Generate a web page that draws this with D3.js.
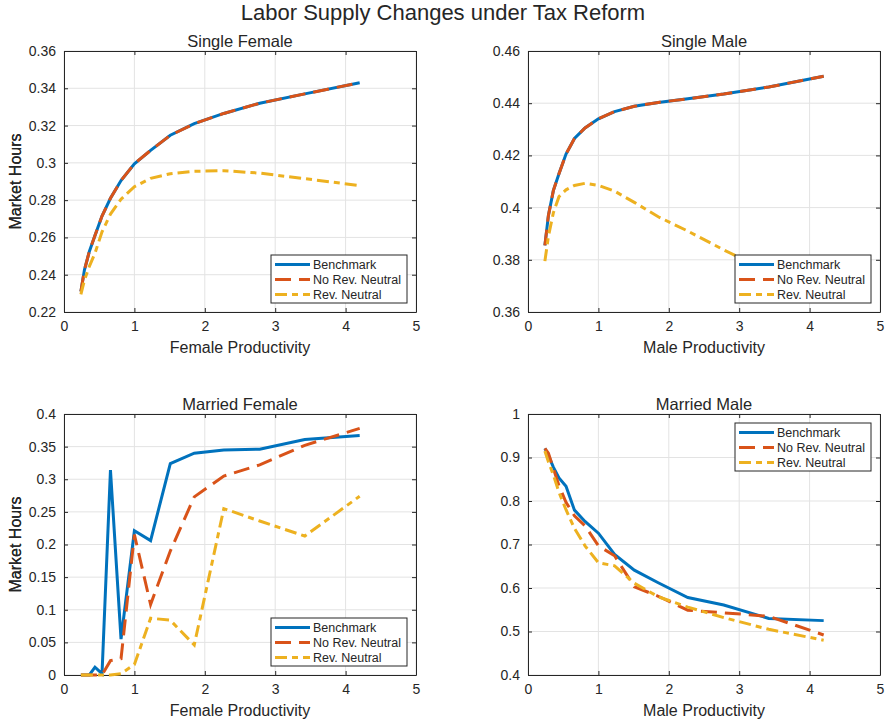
<!DOCTYPE html>
<html>
<head>
<meta charset="utf-8">
<script src="https://cdn.jsdelivr.net/npm/d3@7"></script>
<style>
  html, body { margin: 0; padding: 0; background: #fff; }
  svg text { font-family: "Liberation Sans", Arial, Helvetica, sans-serif; fill: #262626; }
</style>
</head>
<body>
<div id="chart"></div>
<script>
// productivity grid shared by all four panels
const productivity = [0.24, 0.29, 0.36, 0.44, 0.54, 0.66, 0.81, 1.0, 1.23, 1.51, 1.85, 2.27, 2.78, 3.42, 4.2];
const seriesNames = ["Benchmark", "No Rev. Neutral", "Rev. Neutral"];

// Single Female
const sfBenchmark = [0.231, 0.2425, 0.2525, 0.261, 0.2715, 0.281, 0.2905, 0.2995, 0.3067, 0.3148, 0.321, 0.3265, 0.332, 0.337, 0.343];
const sfNoRevNeutral = [0.231, 0.2425, 0.2525, 0.261, 0.2715, 0.281, 0.2905, 0.2995, 0.3067, 0.3148, 0.321, 0.3265, 0.332, 0.337, 0.343];
const sfRevNeutral = [0.2295, 0.237, 0.2445, 0.2515, 0.263, 0.2725, 0.2805, 0.2872, 0.2917, 0.2942, 0.2955, 0.2958, 0.2945, 0.2915, 0.2878];

// Single Male
const smBenchmark = [0.3855, 0.397, 0.4065, 0.413, 0.4205, 0.4265, 0.4305, 0.434, 0.4368, 0.4388, 0.4403, 0.4417, 0.4435, 0.4462, 0.4503];
const smNoRevNeutral = [0.3855, 0.397, 0.4065, 0.413, 0.4205, 0.4265, 0.4305, 0.434, 0.4368, 0.4388, 0.4403, 0.4417, 0.4435, 0.4462, 0.4503];
const smRevNeutral = [0.3795, 0.389, 0.398, 0.4042, 0.4068, 0.4085, 0.4093, 0.4085, 0.4063, 0.402, 0.3965, 0.391, 0.3838, 0.3755, 0.367];

// Married Female
const mfBenchmark = [0, 0, 0, 0.012, 0.002, 0.314, 0.055, 0.221, 0.206, 0.324, 0.34, 0.345, 0.346, 0.361, 0.367];
const mfNoRevNeutral = [0, 0, 0, 0, 0, 0.022, 0.025, 0.215, 0.108, 0.19, 0.273, 0.305, 0.322, 0.352, 0.378];
const mfRevNeutral = [0, 0, 0, 0, 0, 0, 0.002, 0.016, 0.087, 0.084, 0.046, 0.255, 0.236, 0.213, 0.274];

// Married Male
const mmBenchmark = [0.921, 0.905, 0.878, 0.853, 0.834, 0.779, 0.753, 0.726, 0.677, 0.641, 0.612, 0.578, 0.561, 0.53, 0.525];
const mmNoRevNeutral = [0.921, 0.91, 0.875, 0.835, 0.797, 0.766, 0.743, 0.697, 0.674, 0.603, 0.581, 0.549, 0.543, 0.535, 0.492];
const mmRevNeutral = [0.915, 0.89, 0.86, 0.82, 0.78, 0.737, 0.697, 0.658, 0.651, 0.611, 0.58, 0.556, 0.532, 0.505, 0.48];

// tick values
const xTicks = [0, 1, 2, 3, 4, 5];
const sfTicks = [0.22, 0.24, 0.26, 0.28, 0.3, 0.32, 0.34, 0.36];
const smTicks = [0.36, 0.38, 0.4, 0.42, 0.44, 0.46];
const mfTicks = [0, 0.05, 0.1, 0.15, 0.2, 0.25, 0.3, 0.35, 0.4];
const mmTicks = [0.4, 0.5, 0.6, 0.7, 0.8, 0.9, 1];

const colors = ["#0072BD", "#D95319", "#EDB120"];
const dashes = [null, "16,8", "12,5,6,5"];

const svg = d3.select("#chart")
  .append("svg")
  .attr("width", 886)
  .attr("height", 723);

svg.append("text")
  .attr("x", 443)
  .attr("y", 20)
  .attr("text-anchor", "middle")
  .style("font-size", "22px")
  .text("Labor Supply Changes under Tax Reform");

function drawPanel(opts) {
  const { left, top, title, xLabel, yTicks, series, legendPos } = opts;
  const w = 352, h = 261;
  const g = svg.append("g").attr("transform", `translate(${left}, ${top})`);

  const x = d3.scaleLinear().domain([0, 5]).range([0, w]);
  const y = d3.scaleLinear().domain([yTicks[0], yTicks[yTicks.length - 1]]).range([h, 0]);

  // grid
  g.append("g")
    .selectAll("line")
    .data(xTicks)
    .enter()
    .append("line")
    .attr("x1", (d) => x(d)).attr("x2", (d) => x(d))
    .attr("y1", 0).attr("y2", h)
    .attr("stroke", "#e3e3e3");
  g.append("g")
    .selectAll("line")
    .data(yTicks)
    .enter()
    .append("line")
    .attr("x1", 0).attr("x2", w)
    .attr("y1", (d) => y(d)).attr("y2", (d) => y(d))
    .attr("stroke", "#e3e3e3");

  // axes (ticks point inward, box on all sides)
  const fmt = d3.format("~g");
  const axStyle = (sel) => {
    sel.select(".domain").attr("stroke", "#262626");
    sel.selectAll(".tick line").attr("stroke", "#262626");
    sel.selectAll(".tick text").style("font-size", "14px").attr("fill", "#262626");
  };
  g.append("g")
    .attr("transform", `translate(0, ${h})`)
    .call(d3.axisBottom(x).tickValues(xTicks).tickFormat(fmt).tickSizeInner(-4).tickSizeOuter(0).tickPadding(9))
    .call(axStyle);
  g.append("g")
    .call(d3.axisTop(x).tickValues(xTicks).tickFormat("").tickSizeInner(-4).tickSizeOuter(0))
    .call(axStyle);
  g.append("g")
    .call(d3.axisLeft(y).tickValues(yTicks).tickFormat(fmt).tickSizeInner(-4).tickSizeOuter(0).tickPadding(8))
    .call(axStyle);
  g.append("g")
    .attr("transform", `translate(${w}, 0)`)
    .call(d3.axisRight(y).tickValues(yTicks).tickFormat("").tickSizeInner(-4).tickSizeOuter(0))
    .call(axStyle);

  // lines
  const line = d3.line()
    .x((d) => x(d[0]))
    .y((d) => y(d[1]));
  series.forEach((vals, i) => {
    g.append("path")
      .datum(productivity.map((p, j) => [p, vals[j]]))
      .attr("fill", "none")
      .attr("stroke", colors[i])
      .attr("stroke-width", 3)
      .attr("stroke-dasharray", dashes[i])
      .attr("d", line);
  });

  // titles
  g.append("text")
    .attr("x", w / 2)
    .attr("y", -4)
    .attr("text-anchor", "middle")
    .style("font-size", "16.5px")
    .text(title);
  g.append("text")
    .attr("x", w / 2)
    .attr("y", h + 41)
    .attr("text-anchor", "middle")
    .style("font-size", "16px")
    .text(xLabel);
  g.append("text")
    .attr("transform", "rotate(-90)")
    .attr("x", -h / 2)
    .attr("y", -left + 21)
    .attr("text-anchor", "middle")
    .style("font-size", "16px")
    .text("Market Hours");

  // legend
  const lw = 136, lh = 48;
  const lx = w - 9 - lw;
  const ly = legendPos === "top" ? 9 : h - 9 - lh;
  const legend = g.append("g").attr("transform", `translate(${lx}, ${ly})`);
  legend.append("rect")
    .attr("width", lw).attr("height", lh)
    .attr("fill", "#fff")
    .attr("stroke", "#262626");
  seriesNames.forEach((name, i) => {
    const ry = 9.5 + i * 15;
    legend.append("line")
      .attr("x1", 4).attr("x2", 39)
      .attr("y1", ry).attr("y2", ry)
      .attr("stroke", colors[i])
      .attr("stroke-width", 3)
      .attr("stroke-dasharray", dashes[i]);
    legend.append("text")
      .attr("x", 42)
      .attr("y", ry + 4.5)
      .style("font-size", "12.5px")
      .text(name);
  });
}

drawPanel({ left: 64, top: 51, title: "Single Female", xLabel: "Female Productivity",
  yTicks: sfTicks, series: [sfBenchmark, sfNoRevNeutral, sfRevNeutral], legendPos: "bottom" });
drawPanel({ left: 528, top: 51, title: "Single Male", xLabel: "Male Productivity",
  yTicks: smTicks, series: [smBenchmark, smNoRevNeutral, smRevNeutral], legendPos: "bottom" });
drawPanel({ left: 64, top: 414, title: "Married Female", xLabel: "Female Productivity",
  yTicks: mfTicks, series: [mfBenchmark, mfNoRevNeutral, mfRevNeutral], legendPos: "bottom" });
drawPanel({ left: 528, top: 414, title: "Married Male", xLabel: "Male Productivity",
  yTicks: mmTicks, series: [mmBenchmark, mmNoRevNeutral, mmRevNeutral], legendPos: "top" });
</script>
</body>
</html>
